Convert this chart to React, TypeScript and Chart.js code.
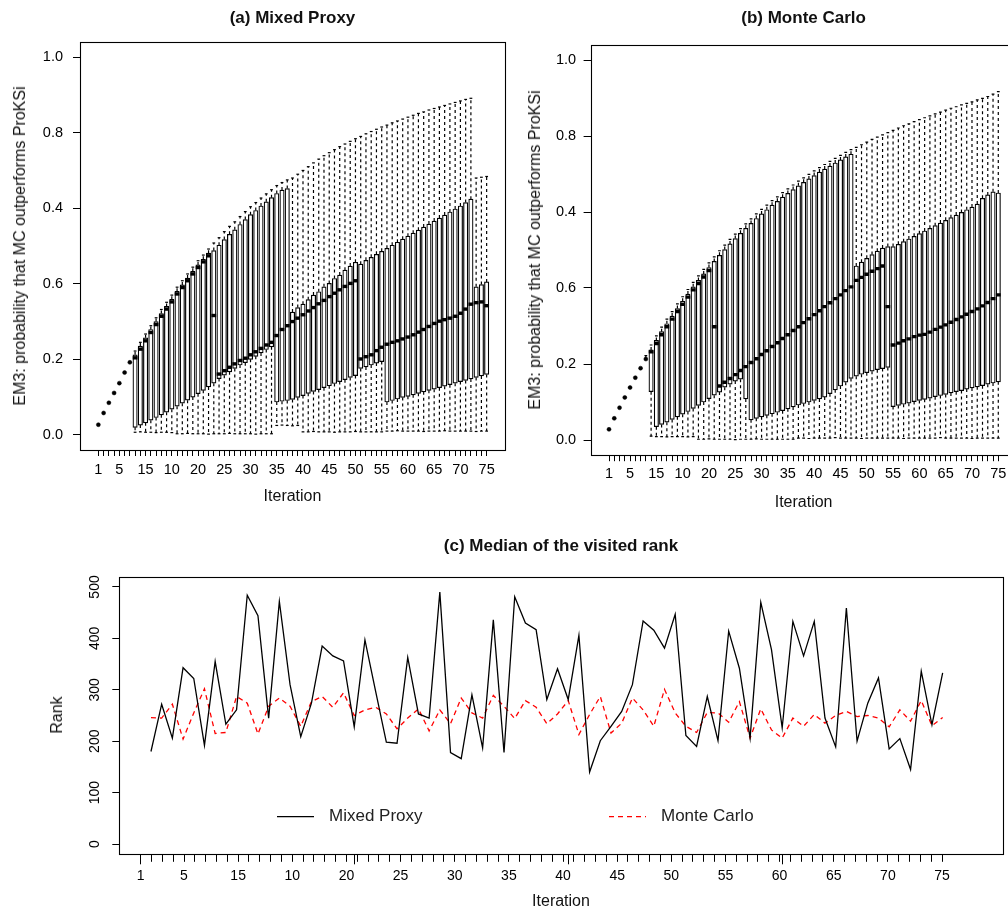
import React, { useEffect, useRef } from "react";
import { Chart, registerables } from "chart.js";

Chart.register(...registerables);

const FONT = '"Liberation Sans", Arial, Helvetica, sans-serif';

// iterations shown in every panel
const ITERATIONS = Array.from({ length: 75 }, (_, i) => i + 1);

// tick labels as printed in the figure (10/15 and 0.4/0.6 are swapped there)
const X_LABEL_AT = [1, 5, 10, 15, 20, 25, 30, 35, 40, 45, 50, 55, 60, 65, 70, 75];
const X_LABELS = ["1", "5", "15", "10", "20", "25", "30", "35", "40", "45", "50", "55", "60", "65", "70", "75"];
const Y_TICKS = [0, 0.2, 0.4, 0.6, 0.8, 1.0];
const Y_LABELS = ["0.0", "0.2", "0.6", "0.4", "0.8", "1.0"];
const RANK_TICKS = [0, 100, 200, 300, 400, 500];
const RANK_MAJOR_TICKS = [0, 20, 40, 60];

// (a) Mixed Proxy: whisker low, Q1, median, Q3, whisker high per iteration
const MP_LO = [
  0.027, 0.058, 0.085, 0.111, 0.137, 0.165, 0.192,
  0.007, 0.008, 0.007, 0.007, 0.006, 0.007, 0.007, 0.006,
  0.003, 0.003, 0.004, 0.003, 0.003, 0.003, 0.002, 0.003, 0.003, 0.003,
  0.004, 0.003, 0.003, 0.003, 0.003, 0.002, 0.003, 0.003, 0.003,
  0.025, 0.026, 0.025, 0.024, 0.025,
  0.008, 0.008, 0.009, 0.008, 0.008, 0.008, 0.007, 0.008, 0.008, 0.008,
  0.009, 0.008, 0.008, 0.008, 0.008, 0.008,
  0.010, 0.010, 0.011, 0.010, 0.010, 0.010, 0.010, 0.009, 0.010, 0.010,
  0.010, 0.011, 0.010, 0.010, 0.010, 0.010, 0.010, 0.009, 0.010, 0.010,
];
const MP_Q1 = [
  0.027, 0.058, 0.085, 0.111, 0.137, 0.165, 0.192,
  0.020, 0.026, 0.032, 0.039, 0.046, 0.053, 0.060, 0.068, 0.076, 0.084,
  0.092, 0.100, 0.109, 0.118, 0.127, 0.137,
  0.149, 0.158, 0.167, 0.176, 0.185, 0.191, 0.200, 0.208, 0.217, 0.226, 0.233,
  0.087, 0.089, 0.091,
  0.094, 0.099, 0.104, 0.110, 0.115, 0.120, 0.125, 0.130, 0.136, 0.141,
  0.146, 0.152, 0.157,
  0.176, 0.180, 0.185, 0.190, 0.194,
  0.087, 0.091, 0.095, 0.099, 0.102, 0.106, 0.110, 0.114, 0.118, 0.121,
  0.125, 0.129, 0.133, 0.137, 0.141, 0.144, 0.148, 0.152, 0.156, 0.160,
];
const MP_MED = [
  0.027, 0.058, 0.085, 0.111, 0.137, 0.165, 0.192,
  0.204, 0.227, 0.249, 0.271, 0.292, 0.314, 0.333, 0.352, 0.373, 0.390,
  0.408, 0.426, 0.443, 0.458, 0.474,
  0.316,
  0.161, 0.170, 0.179, 0.188, 0.197, 0.203, 0.212, 0.220, 0.229, 0.238,
  0.245, 0.263, 0.279, 0.289,
  0.300, 0.309, 0.318, 0.328, 0.337, 0.347, 0.356, 0.366, 0.375, 0.384,
  0.393, 0.401, 0.408,
  0.201, 0.207, 0.212, 0.223, 0.232,
  0.240, 0.245, 0.249, 0.254, 0.259, 0.265, 0.272, 0.279, 0.287, 0.295,
  0.301, 0.305, 0.309, 0.314, 0.322, 0.333, 0.346,
  0.350, 0.352, 0.342,
];
const MP_Q3 = [
  0.027, 0.058, 0.085, 0.111, 0.137, 0.165, 0.192,
  0.212, 0.235, 0.257, 0.279, 0.300, 0.321, 0.340, 0.359, 0.380, 0.397,
  0.415, 0.433, 0.450, 0.465, 0.481,
  0.488, 0.502, 0.517, 0.531, 0.543, 0.557, 0.570, 0.583, 0.594, 0.606,
  0.617, 0.628, 0.639, 0.648, 0.652,
  0.325, 0.337, 0.346, 0.358, 0.370, 0.379, 0.392, 0.401, 0.414, 0.423,
  0.436, 0.447, 0.457,
  0.452, 0.462, 0.470, 0.478, 0.486, 0.494, 0.502, 0.510, 0.518, 0.526,
  0.534, 0.542, 0.550, 0.558, 0.566, 0.574, 0.582, 0.590, 0.598, 0.606,
  0.615, 0.624,
  0.392, 0.398, 0.405,
];
const MP_HI = [
  0.027, 0.058, 0.085, 0.111, 0.137, 0.165, 0.192,
  0.222, 0.245, 0.267, 0.289, 0.310, 0.332, 0.351, 0.370, 0.391, 0.408,
  0.426, 0.444, 0.461, 0.476, 0.492,
  0.508, 0.522, 0.538, 0.552, 0.564, 0.578, 0.591, 0.604, 0.615, 0.627,
  0.638, 0.649, 0.660, 0.668, 0.675,
  0.680, 0.690, 0.700, 0.710, 0.720, 0.730, 0.739, 0.747, 0.755, 0.763,
  0.770, 0.777, 0.784,
  0.790, 0.797, 0.803, 0.809, 0.815, 0.820, 0.826, 0.831, 0.836, 0.841,
  0.846, 0.851, 0.855, 0.860, 0.864, 0.868, 0.872, 0.876, 0.880, 0.884,
  0.888, 0.891,
  0.680, 0.682, 0.684,
];

// (b) Monte Carlo
const MC_LO = [
  0.028, 0.057, 0.085, 0.112, 0.138, 0.164, 0.189, 0.213,
  0.010,
  0.009, 0.009, 0.008, 0.009, 0.009, 0.009, 0.008, 0.009,
  0.002, 0.002, 0.003, 0.002, 0.002, 0.002, 0.002, 0.001, 0.002, 0.002,
  0.002, 0.003, 0.002, 0.002, 0.002, 0.002, 0.002, 0.002, 0.002,
  0.005, 0.005, 0.004, 0.005, 0.005, 0.005, 0.005, 0.006, 0.005, 0.005,
  0.005, 0.005, 0.004, 0.005, 0.005, 0.005, 0.005, 0.005, 0.005, 0.005,
  0.004, 0.005, 0.005, 0.005, 0.005, 0.005, 0.005, 0.006, 0.005, 0.005,
  0.005, 0.005, 0.005, 0.004, 0.005, 0.005, 0.005, 0.005, 0.005,
];
const MC_Q1 = [
  0.028, 0.057, 0.085, 0.112, 0.138, 0.164, 0.189, 0.213,
  0.127,
  0.035, 0.041, 0.047, 0.054, 0.061, 0.068, 0.075, 0.083, 0.091, 0.100,
  0.109, 0.118, 0.126, 0.139, 0.147, 0.155, 0.160,
  0.108,
  0.053, 0.057, 0.061, 0.065, 0.069, 0.073, 0.077, 0.082, 0.087, 0.092,
  0.096, 0.100, 0.104, 0.108, 0.113, 0.122, 0.132, 0.142, 0.152, 0.162,
  0.168, 0.173, 0.177, 0.181, 0.185, 0.188, 0.191,
  0.088, 0.091, 0.094, 0.097, 0.101, 0.104, 0.107, 0.110, 0.114, 0.117,
  0.120, 0.124, 0.127, 0.130, 0.134, 0.137, 0.140, 0.143, 0.147, 0.150,
  0.153,
];
const MC_MED = [
  0.028, 0.057, 0.085, 0.112, 0.138, 0.164, 0.189, 0.213,
  0.232,
  0.254, 0.277, 0.298, 0.318, 0.338, 0.357, 0.376, 0.395, 0.412, 0.429,
  0.446,
  0.298,
  0.142, 0.152, 0.162, 0.172, 0.183, 0.193, 0.204, 0.214, 0.225, 0.235,
  0.246, 0.256, 0.267, 0.277, 0.288, 0.298, 0.309, 0.319, 0.330, 0.340,
  0.351, 0.361, 0.372, 0.382, 0.393, 0.403,
  0.420, 0.428, 0.436, 0.444, 0.451, 0.458,
  0.351,
  0.250, 0.255, 0.261, 0.266, 0.272, 0.276, 0.278, 0.284, 0.291, 0.297,
  0.303, 0.310, 0.317, 0.324, 0.331, 0.338, 0.345, 0.353, 0.362, 0.372,
  0.382,
];
const MC_Q3 = [
  0.028, 0.057, 0.085, 0.112, 0.138, 0.164, 0.189, 0.213,
  0.237,
  0.262, 0.285, 0.306, 0.326, 0.346, 0.365, 0.384, 0.403, 0.420, 0.437,
  0.454, 0.470, 0.486, 0.501, 0.516, 0.530, 0.544, 0.557, 0.570, 0.583,
  0.595, 0.606, 0.618, 0.628, 0.639, 0.649, 0.659, 0.669, 0.678, 0.687,
  0.696, 0.705, 0.713, 0.721, 0.729, 0.737, 0.745, 0.752,
  0.458, 0.468, 0.478, 0.488, 0.497, 0.505,
  0.509,
  0.509, 0.515, 0.522, 0.529, 0.536, 0.543, 0.550, 0.557, 0.564, 0.571,
  0.578, 0.585, 0.592, 0.599, 0.606, 0.613, 0.621, 0.636, 0.645, 0.653,
  0.650,
];
const MC_HI = [
  0.028, 0.057, 0.085, 0.112, 0.138, 0.164, 0.189, 0.222,
  0.250, 0.274, 0.297, 0.318, 0.338, 0.358, 0.377, 0.396, 0.415, 0.432,
  0.449, 0.466, 0.482, 0.498, 0.513, 0.528, 0.542, 0.556, 0.569, 0.582,
  0.595, 0.607, 0.618, 0.630, 0.640, 0.651, 0.661, 0.671, 0.681,
  0.690, 0.699, 0.708, 0.717, 0.725, 0.733, 0.741, 0.749, 0.757, 0.764,
  0.770, 0.777, 0.784, 0.791, 0.797, 0.803, 0.809, 0.815, 0.821, 0.827,
  0.832, 0.838, 0.843, 0.848, 0.853, 0.858, 0.863, 0.868, 0.873, 0.877,
  0.882, 0.886, 0.890, 0.895, 0.899, 0.904, 0.910, 0.917,
];

// (c) median of the visited rank
const RANK_MIXED = [
  180, 272, 206, 343, 322, 192, 355, 233, 261, 484,
  444, 245, 472, 310, 209, 274, 385, 366, 356, 228,
  397, 297, 198, 196, 363, 253, 245, 490, 178, 166,
  290, 187, 436, 178, 481, 430, 417, 281, 341, 281,
  406, 140, 201, 229, 258, 310, 434, 416, 381, 447,
  211, 190, 287, 201, 414, 342, 206, 470, 378, 226,
  433, 366, 433, 245, 189, 459, 200, 274, 323, 185,
  205, 145, 336, 232, 333,
];
const RANK_MC = [
  246, 245, 272, 204, 255, 302, 215, 217, 287, 274,
  214, 268, 284, 268, 229, 277, 287, 266, 294, 250,
  261, 266, 253, 224, 245, 263, 220, 261, 234, 284,
  255, 245, 289, 268, 244, 279, 266, 234, 253, 279,
  213, 252, 287, 216, 235, 284, 261, 229, 301, 255,
  229, 217, 256, 255, 237, 277, 206, 263, 222, 206,
  245, 229, 252, 235, 250, 258, 248, 250, 245, 228,
  261, 239, 279, 230, 246,
];
const SERIES_NAMES = ["Mixed Proxy", "Monte Carlo"];

const framePlugin = {
  id: "frame",
  afterDraw(chart: any) {
    const { ctx, chartArea: a } = chart;
    ctx.save();
    ctx.strokeStyle = "#000";
    ctx.lineWidth = 1.1;
    const l = Math.round(a.left) + 0.5;
    const t = Math.round(a.top) + 0.5;
    ctx.strokeRect(l, t, Math.round(a.right) - Math.round(a.left), Math.round(a.bottom) - Math.round(a.top));
    ctx.restore();
  },
};

const xLabel = (v: number) => {
  const k = X_LABEL_AT.indexOf(v);
  return k < 0 ? "" : X_LABELS[k];
};

type BoxData = { lo: number[]; q1: number[]; med: number[]; q3: number[]; hi: number[] };
type Geo = { padding: any; yWidth: number; xHeight: number; yPad: number; xPad: number };

function makeBoxChart(canvas: HTMLCanvasElement, d: BoxData, g: Geo) {
  const boxes = ITERATIONS.map((x, i) => ({ x, y: [d.q1[i], d.q3[i]] }));
  const medians = ITERATIONS.map((x, i) => ({ x, y: d.med[i] }));
  const whiskers: any[] = [];
  const caps: any[] = [];
  ITERATIONS.forEach((x, i) => {
    whiskers.push({ x, y: d.q3[i] }, { x, y: d.hi[i] }, { x, y: null });
    whiskers.push({ x, y: d.q1[i] }, { x, y: d.lo[i] }, { x, y: null });
    caps.push({ x, y: d.lo[i] }, { x, y: d.hi[i] });
  });
  // a box whose quartiles coincide is shown as a dot
  const flat = (i: number) => d.q1[i] === d.q3[i];

  return new Chart(canvas, {
    type: "bar",
    data: {
      datasets: [
        {
          type: "scatter",
          data: medians,
          pointStyle: (c: any) => (flat(c.dataIndex) ? "circle" : "line"),
          pointRadius: (c: any) => (flat(c.dataIndex) ? 2 : 2.4),
          pointBorderWidth: (c: any) => (flat(c.dataIndex) ? 0.5 : 3.4),
          pointBorderColor: "#000",
          pointBackgroundColor: "#000",
          order: 0,
        },
        {
          type: "scatter",
          data: caps,
          pointStyle: "line",
          pointRadius: 1.4,
          pointBorderWidth: 1.2,
          pointBorderColor: "#000",
          order: 1,
        },
        {
          type: "bar",
          data: boxes,
          backgroundColor: "#fff",
          borderColor: "#000",
          borderWidth: 1.2,
          borderSkipped: false,
          barThickness: 4.4,
          order: 2,
        },
        {
          type: "line",
          data: whiskers,
          borderColor: "#000",
          borderWidth: 1.2,
          borderDash: [3, 3],
          pointRadius: 0,
          spanGaps: false,
          fill: false,
          order: 3,
        },
      ] as any,
    },
    options: {
      responsive: false,
      animation: false,
      events: [],
      layout: { padding: g.padding },
      plugins: { legend: { display: false }, tooltip: { enabled: false } },
      scales: {
        x: {
          type: "linear",
          min: -2.5,
          max: 78.5,
          offset: false,
          afterBuildTicks: (s: any) => {
            s.ticks = ITERATIONS.map((v) => ({ value: v }));
          },
          afterFit: (s: any) => {
            s.height = g.xHeight;
          },
          grid: { offset: false, drawOnChartArea: false, tickLength: 6, color: "#000" },
          border: { display: false },
          ticks: {
            autoSkip: false,
            maxRotation: 0,
            minRotation: 0,
            padding: g.xPad,
            color: "#000",
            font: { family: FONT, size: 14.5 },
            callback: (v: any) => xLabel(v),
          },
        },
        y: {
          type: "linear",
          min: -0.04,
          max: 1.04,
          afterBuildTicks: (s: any) => {
            s.ticks = Y_TICKS.map((v) => ({ value: v }));
          },
          afterFit: (s: any) => {
            s.width = g.yWidth;
          },
          grid: { drawOnChartArea: false, tickLength: 7, color: "#000" },
          border: { display: false },
          ticks: {
            padding: g.yPad,
            color: "#000",
            font: { family: FONT, size: 14.5 },
            callback: (v: any) => Y_LABELS[Y_TICKS.indexOf(v)] ?? "",
          },
        },
      },
    } as any,
    plugins: [framePlugin],
  });
}

function BoxPanel(props: { data: BoxData; geo: Geo; left: number; width: number; height: number }) {
  const ref = useRef<HTMLCanvasElement | null>(null);
  useEffect(() => {
    if (!ref.current) return;
    const chart = makeBoxChart(ref.current, props.data, props.geo);
    return () => chart.destroy();
  }, []);
  return (
    <canvas
      ref={ref}
      width={props.width}
      height={props.height}
      style={{ position: "absolute", left: props.left, top: 0, width: props.width, height: props.height }}
    />
  );
}

const legendPlugin = {
  id: "rankLegend",
  afterDraw(chart: any) {
    const { ctx } = chart;
    const starts = [277, 609];
    const y = 296.7;
    ctx.save();
    chart.data.datasets.forEach((ds: any, i: number) => {
      const x0 = starts[i];
      ctx.strokeStyle = ds.borderColor;
      ctx.lineWidth = ds.borderWidth;
      ctx.setLineDash(ds.borderDash || []);
      ctx.beginPath();
      ctx.moveTo(x0, y);
      ctx.lineTo(x0 + 37, y);
      ctx.stroke();
      ctx.setLineDash([]);
      ctx.fillStyle = "#222";
      ctx.font = `17px ${FONT}`;
      ctx.textBaseline = "middle";
      ctx.fillText(ds.label, x0 + 52, y);
    });
    ctx.restore();
  },
};

function RankPanel() {
  const ref = useRef<HTMLCanvasElement | null>(null);
  useEffect(() => {
    if (!ref.current) return;
    const chart = new Chart(ref.current, {
      type: "line",
      data: {
        datasets: [
          {
            label: SERIES_NAMES[0],
            data: ITERATIONS.map((x, i) => ({ x, y: RANK_MIXED[i] })),
            borderColor: "#000",
            borderWidth: 1.3,
            pointRadius: 0,
            tension: 0,
            xAxisID: "x",
          },
          {
            label: SERIES_NAMES[1],
            data: ITERATIONS.map((x, i) => ({ x, y: RANK_MC[i] })),
            borderColor: "#ff0000",
            borderWidth: 1.3,
            borderDash: [5, 4],
            pointRadius: 0,
            tension: 0,
            xAxisID: "x",
          },
        ],
      },
      options: {
        responsive: false,
        animation: false,
        events: [],
        layout: { padding: { top: 56.7, right: 5, left: 0, bottom: 0 } },
        plugins: { legend: { display: false }, tooltip: { enabled: false } },
        scales: {
          x: {
            type: "linear",
            position: "bottom",
            weight: 0,
            min: -1.96,
            max: 80.64,
            afterBuildTicks: (s: any) => {
              s.ticks = RANK_MAJOR_TICKS.map((v) => ({ value: v }));
            },
            afterFit: (s: any) => {
              s.height = 0;
            },
            grid: { drawOnChartArea: false, tickLength: 10, color: "#000" },
            border: { display: false },
            ticks: { display: false },
          },
          xt: {
            type: "linear",
            axis: "x",
            position: "bottom",
            weight: 1,
            min: -0.976,
            max: 80.63,
            afterBuildTicks: (s: any) => {
              s.ticks = ITERATIONS.map((v) => ({ value: v }));
            },
            afterFit: (s: any) => {
              s.height = 60.7;
            },
            grid: { drawOnChartArea: false, tickLength: 7.5, color: "#000" },
            border: { display: false },
            ticks: {
              autoSkip: false,
              maxRotation: 0,
              minRotation: 0,
              padding: 5.5,
              color: "#000",
              font: { family: FONT, size: 14 },
              callback: (v: any) => xLabel(v),
            },
          },
          y: {
            type: "linear",
            min: -20,
            max: 520,
            afterBuildTicks: (s: any) => {
              s.ticks = RANK_TICKS.map((v) => ({ value: v }));
            },
            afterFit: (s: any) => {
              s.width = 119.3;
            },
            grid: { drawOnChartArea: false, tickLength: 7, color: "#000" },
            border: { display: false },
            ticks: {
              minRotation: 90,
              maxRotation: 90,
              crossAlign: "center",
              padding: 5,
              color: "#000",
              font: { family: FONT, size: 14 },
              callback: (v: any) => String(v),
            },
          },
        },
      } as any,
      plugins: [framePlugin, legendPlugin],
    });
    return () => chart.destroy();
  }, []);
  return (
    <canvas
      ref={ref}
      width={1008}
      height={395}
      style={{ position: "absolute", left: 0, top: 520, width: 1008, height: 395 }}
    />
  );
}

function Label(props: { text: string; x: number; y: number; size: number; bold?: boolean; vertical?: boolean }) {
  return (
    <div
      style={{
        position: "absolute",
        left: props.x,
        top: props.y,
        transform: `translate(-50%, -50%)${props.vertical ? " rotate(-90deg)" : ""}`,
        whiteSpace: "nowrap",
        fontFamily: FONT,
        fontSize: props.size,
        fontWeight: props.bold ? "bold" : "normal",
        color: "#111",
        lineHeight: 1,
      }}
    >
      {props.text}
    </div>
  );
}

const YTITLE = "EM3: probability that MC outperforms ProKSi";

export default function App() {
  return (
    <div
      style={{
        position: "absolute",
        left: 0,
        top: 0,
        width: 1008,
        height: 915,
        overflow: "hidden",
        background: "#fff",
      }}
    >
      <BoxPanel
        data={{ lo: MP_LO, q1: MP_Q1, med: MP_MED, q3: MP_Q3, hi: MP_HI }}
        geo={{ padding: { top: 42, right: 15, left: 0, bottom: 0 }, yWidth: 80, xHeight: 60, yPad: 10, xPad: 5 }}
        left={0}
        width={520}
        height={510}
      />
      <BoxPanel
        data={{ lo: MC_LO, q1: MC_Q1, med: MC_MED, q3: MC_Q3, hi: MC_HI }}
        geo={{ padding: { top: 44.8, right: 13.3, left: 0, bottom: 0 }, yWidth: 80.6, xHeight: 59.8, yPad: 7.5, xPad: 4 }}
        left={510}
        width={520}
        height={515}
      />
      <RankPanel />

      <Label text="(a) Mixed Proxy" x={292.5} y={17} size={17} bold />
      <Label text="(b) Monte Carlo" x={803.6} y={17} size={17} bold />
      <Label text="(c) Median of the visited rank" x={561} y={545} size={17} bold />

      <Label text="Iteration" x={292.5} y={496} size={16} />
      <Label text="Iteration" x={803.6} y={502} size={16} />
      <Label text="Iteration" x={561} y={901} size={16} />

      <Label text={YTITLE} x={20} y={246} size={16} vertical />
      <Label text={YTITLE} x={535} y={250} size={16} vertical />
      <Label text="Rank" x={57} y={715} size={16} vertical />
    </div>
  );
}
